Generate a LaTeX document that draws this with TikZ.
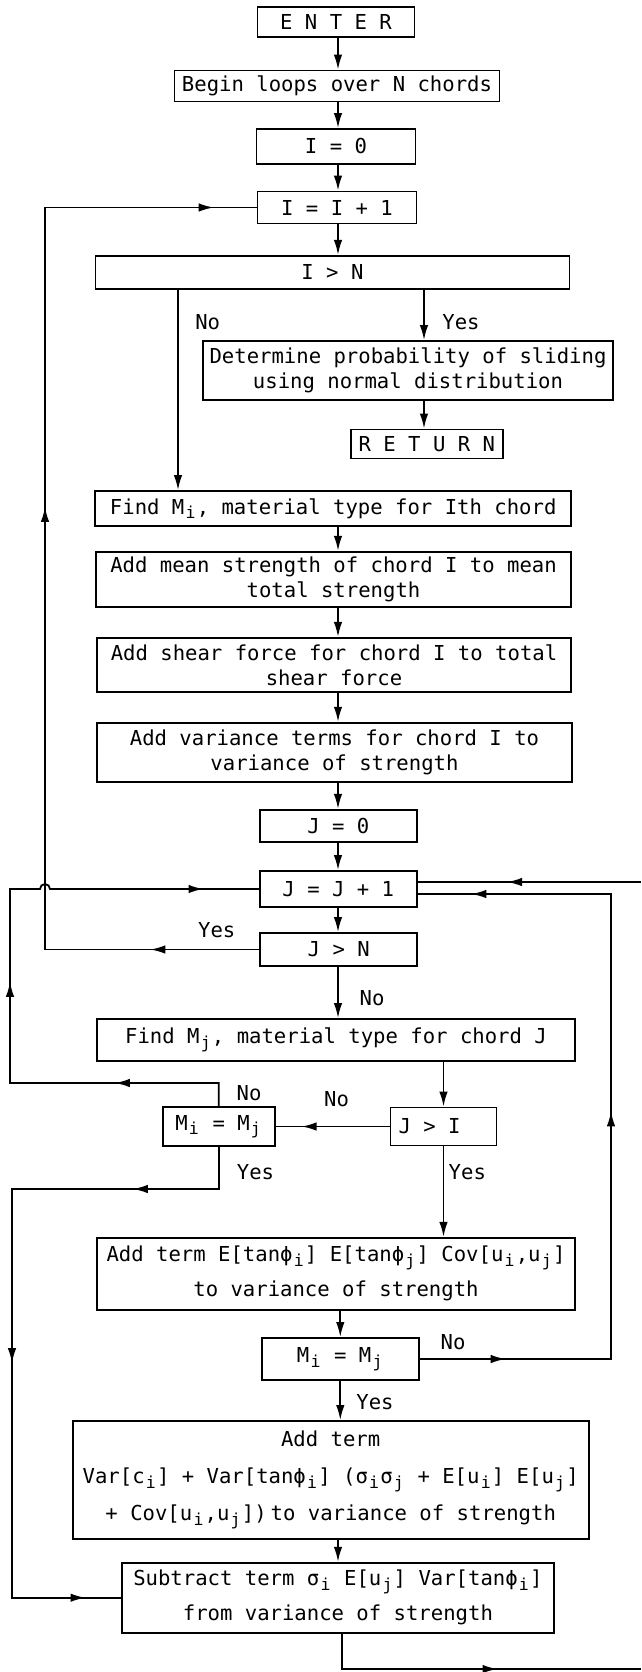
\documentclass[tikz,border=0pt]{standalone}
\usepackage{fontspec}
\usepackage{tikz}
\usetikzlibrary{arrows.meta, positioning, calc, decorations.markings}
\newfontfamily\flowfont{DejaVu Sans Mono}
\newcommand{\sbs}[1]{\makebox[12.4pt]{\raisebox{-4.5pt}{\fontsize{16.5}{16.5}\selectfont #1}}}
\tikzset{
  block/.style={rectangle, draw, line width=1.8pt, inner sep=0pt, align=center,
    font=\flowfont\fontsize{20.6}{25}\selectfont},
  tallblock/.style={block, font=\flowfont\fontsize{20.6}{35}\selectfont},
  lbl/.style={inner sep=0pt, font=\flowfont\fontsize{20.6}{25}\selectfont},
  arrow/.style={-{Latex[length=15pt,width=8.5pt]}, line width=1.8pt},
  line/.style={line width=1.8pt},
  midarrow/.style={postaction={decorate, decoration={markings,
    mark=at position #1 with {\arrow{Latex[length=15pt,width=8.5pt]}}}}}
}

\begin{document}
\begin{tikzpicture}[x=1pt, y=-1pt]
  \useasboundingbox (0,0) rectangle (641,1672);
  % Routing lines
  \coordinate (spine) at (338,0);
  \coordinate (colno) at (178,0);
  \coordinate (colyes) at (424,0);
  \coordinate (railI) at (45,0);
  \coordinate (railJ) at (10,0);
  \coordinate (railS) at (12,0);
  \coordinate (railR) at (611,0);
  \coordinate (busN) at (0,1083);
  \coordinate (busS) at (0,1189);
  \coordinate (pagein) at (641,882);
  \coordinate (pageout) at (641,1669);
  % Loop over I
  \node[block, minimum width=157pt, minimum height=30pt] (enter) at (336,22) {E N T E R};
  \node[block, minimum width=325pt, minimum height=31pt] (begin) at (337,86) {Begin loops over N chords};
  \node[block, minimum width=159pt, minimum height=35pt] (izero) at (336,146.5) {I = 0};
  \node[block, minimum width=159pt, minimum height=32pt] (iinc) at (337,207.5) {I = I + 1};
  \node[block, minimum width=474pt, minimum height=33pt] (igtn) at (332.4,272.3) {I > N};
  \node[block, minimum width=410pt, minimum height=59pt] (determ) at (408,370.5)
    {Determine probability of sliding\\using normal distribution};
  \node[block, minimum width=152pt, minimum height=29pt] (ret) at (426.8,444) {R E T U R N};
  \node[tallblock, minimum width=476pt, minimum height=35pt] (findmi) at (333.2,508.5)
    {Find M\sbs{i}, material type for Ith chord};
  \node[block, minimum width=475pt, minimum height=55pt] (addmean) at (333.5,579.2)
    {Add mean strength of chord I to mean\\total strength};
  \node[block, minimum width=474pt, minimum height=54pt] (addshear) at (334,664.8)
    {Add shear force for chord I to total\\shear force};
  \node[block, minimum width=475pt, minimum height=59pt] (addvar) at (334.5,752.2)
    {Add variance terms for chord I to\\variance of strength};
  % Loop over J
  \node[block, minimum width=157pt, minimum height=32pt] (jzero) at (338.3,825.8) {J = 0};
  \node[block, minimum width=157pt, minimum height=36pt] (jinc) at (338.3,889) {J = J + 1};
  \node[block, minimum width=157pt, minimum height=33pt] (jgtn) at (338.7,949.5) {J > N};
  \node[tallblock, minimum width=478pt, minimum height=42pt] (findmj) at (336,1040)
    {Find M\sbs{j}, material type for chord J};
  \node[tallblock, minimum width=112pt, minimum height=39pt] (mmone) at (218.7,1126.5)
    {M\sbs{i} = M\sbs{j}};
  \node[tallblock, minimum width=106pt, minimum height=38pt] (jgti) at (443.5,1126.5)
    {J > I\hspace*{28pt}};
  \node[tallblock, minimum width=478pt, minimum height=72pt] (addcov) at (336,1273.8)
    {Add term E[tanϕ\sbs{i}] E[tanϕ\sbs{j}] Cov[u\sbs{i},u\sbs{j}]\\to variance of strength};
  \node[tallblock, minimum width=157pt, minimum height=42pt] (mmtwo) at (340.3,1359)
    {M\sbs{i} = M\sbs{j}};
  \node[block, font=\flowfont\fontsize{20.6}{37}\selectfont, minimum width=516pt, minimum height=118pt]
    (addsame) at (330.7,1480)
    {Add term\\Var[c\sbs{i}] + Var[tanϕ\sbs{i}] (σ\sbs{i}σ\sbs{j} + E[u\sbs{i}] E[u\sbs{j}]\\+ Cov[u\sbs{i},u\sbs{j}])\hspace{4pt}to variance of strength};
  \node[tallblock, minimum width=432pt, minimum height=70pt] (subterm) at (337.9,1597.7)
    {Subtract term σ\sbs{i} E[u\sbs{j}] Var[tanϕ\sbs{i}]\\from variance of strength};
  \coordinate (jinlo) at ([yshift=-5pt]jinc.east);
  \coordinate (jinhi) at ([yshift=7pt]jinc.east);
  % Branch labels
  \node[lbl] (lnoi) at (207.7,321.7) {No};
  \node[lbl] (lyesi) at (461,321.7) {Yes};
  \node[lbl] (lyesj) at (216.7,930) {Yes};
  \node[lbl] (lnoj) at (372,998.3) {No};
  \node[lbl] (lnomone) at (249,1093) {No};
  \node[lbl] (lnojgti) at (336.5,1099) {No};
  \node[lbl] (lyesmone) at (255.5,1171.7) {Yes};
  \node[lbl] (lyesjgti) at (467.3,1171.7) {Yes};
  \node[lbl] (lnomtwo) at (453,1341.7) {No};
  \node[lbl] (lyesmtwo) at (375,1401.7) {Yes};
  % Main column
  \draw[arrow] (enter.south -| spine) -- (begin.north -| spine);
  \draw[arrow] (begin.south -| spine) -- (izero.north -| spine);
  \draw[arrow] (izero.south -| spine) -- (iinc.north -| spine);
  \draw[arrow] (iinc.south -| spine) -- (igtn.north -| spine);
  \draw[arrow] (igtn.south -| colno) -- (findmi.north -| colno);
  \draw[arrow] (igtn.south -| colyes) -- (determ.north -| colyes);
  \draw[arrow] (determ.south -| colyes) -- (ret.north -| colyes);
  \draw[arrow] (findmi.south -| spine) -- (addmean.north -| spine);
  \draw[arrow] (addmean.south -| spine) -- (addshear.north -| spine);
  \draw[arrow] (addshear.south -| spine) -- (addvar.north -| spine);
  \draw[arrow] (addvar.south -| spine) -- (jzero.north -| spine);
  \draw[arrow] (jzero.south -| spine) -- (jinc.north -| spine);
  \draw[arrow] (jinc.south -| spine) -- (jgtn.north -| spine);
  \draw[arrow] (jgtn.south -| spine) -- (findmj.north -| spine);
  \draw[arrow] (findmj.south -| jgti.north) -- (jgti.north);
  \draw[line, midarrow=88pt] (jgti.west) -- (mmone.east);
  \draw[arrow] (jgti.south) -- (jgti.south |- addcov.north);
  \draw[arrow] (addcov.south -| mmtwo.north) -- (mmtwo.north);
  \draw[arrow] (mmtwo.south) -- (mmtwo.south |- addsame.north);
  \draw[arrow] (addsame.south -| spine) -- (subterm.north -| spine);
  % Loop backs
  \draw[line, midarrow=109pt, midarrow=657pt, midarrow=1125pt]
    (jgtn.west) -- (jgtn.west -| railI) -- (iinc.west -| railI) -- (iinc.west);
  \draw[line, midarrow=127pt, midarrow=333pt, midarrow=625pt]
    (mmone.north) -- (mmone.north |- busN) -- (railJ |- busN) -- (railJ |- jinc.west)
    -- ([xshift=-5pt]railI |- jinc.west) arc[start angle=180, end angle=0, radius=5pt]
    -- (jinc.west);
  \draw[line, midarrow=128pt, midarrow=423pt, midarrow=731pt]
    (mmone.south) -- (mmone.south |- busS) -- (railS |- busS) -- (railS |- subterm.west)
    -- (subterm.west);
  \draw[line, midarrow=86pt, midarrow=439pt, midarrow=796pt]
    (mmtwo.east) -- (railR |- mmtwo.east) -- (railR |- jinlo) -- (jinlo);
  \draw[line, midarrow=134pt] (pagein) -- (jinhi);
  \draw[line, midarrow=191pt]
    ([xshift=4pt]subterm.south) -- ([xshift=4pt]subterm.south |- pageout) -- (pageout);
\end{tikzpicture}
\end{document}
